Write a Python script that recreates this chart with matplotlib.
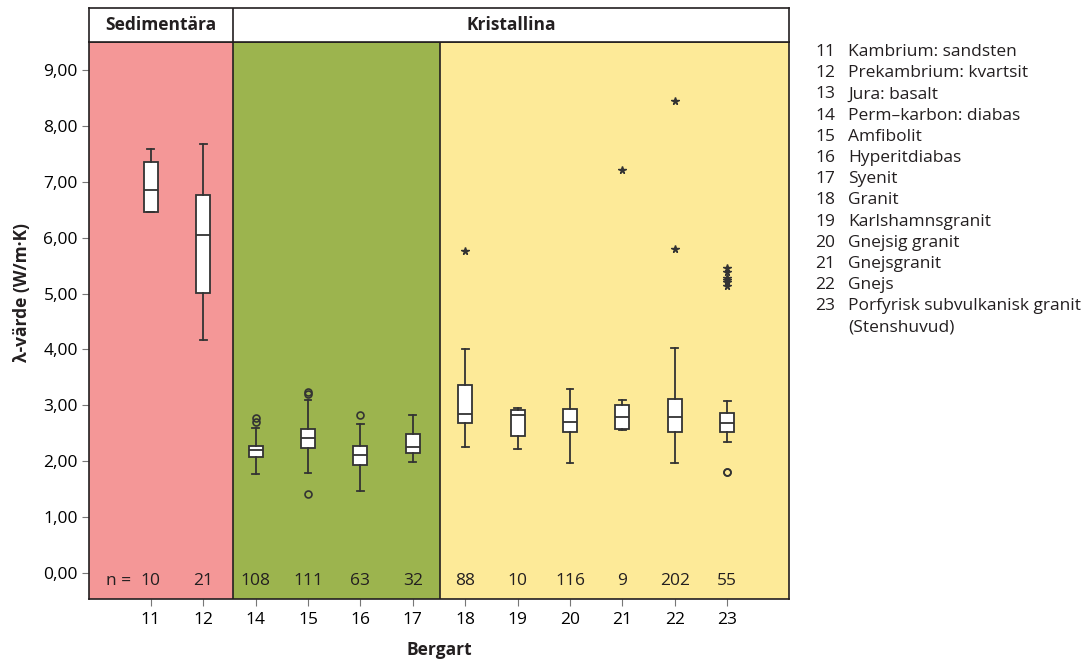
import matplotlib as mpl
import matplotlib.pyplot as plt

mpl.rcParams['font.family'] = ['Open Sans', 'DejaVu Sans']
mpl.rcParams['text.color'] = '#231f20'
mpl.rcParams['axes.labelcolor'] = '#231f20'

codes = ['11', '12', '14', '15', '16', '17', '18', '19', '20', '21', '22', '23']
counts = [10, 21, 108, 111, 63, 32, 88, 10, 116, 9, 202, 55]

whislo = [6.45, 4.16, 1.78, 1.79, 1.47, 1.99, 2.25, 2.22, 1.97, 2.55, 1.97, 2.34]
q1 = [6.45, 5.01, 2.07, 2.23, 1.93, 2.15, 2.68, 2.46, 2.52, 2.57, 2.52, 2.52]
med = [6.85, 6.05, 2.20, 2.42, 2.11, 2.25, 2.84, 2.83, 2.71, 2.80, 2.80, 2.69]
q3 = [7.35, 6.77, 2.28, 2.58, 2.27, 2.49, 3.36, 2.92, 2.93, 3.00, 3.12, 2.87]
whishi = [7.58, 7.68, 2.59, 3.10, 2.66, 2.82, 4.01, 2.96, 3.30, 3.09, 4.02, 3.08]

# outliers (circles) and extreme values (stars)
circles = [[], [], [2.70, 2.77], [1.41, 3.21, 3.23], [2.82], [], [], [], [], [], [], [1.80, 1.81]]
stars = [[], [], [], [], [], [], [5.76], [], [], [7.21], [5.79, 8.44],
         [5.14, 5.20, 5.24, 5.28, 5.39, 5.46]]

legend = ['11', 'Kambrium: sandsten', '12', 'Prekambrium: kvartsit', '13', 'Jura: basalt',
          '14', 'Perm\u2013karbon: diabas', '15', 'Amfibolit', '16', 'Hyperitdiabas',
          '17', 'Syenit', '18', 'Granit', '19', 'Karlshamnsgranit', '20', 'Gnejsig granit',
          '21', 'Gnejsgranit', '22', 'Gnejs', '23', 'Porfyrisk subvulkanisk granit',
          '', '(Stenshuvud)']

yticks = [0, 1, 2, 3, 4, 5, 6, 7, 8, 9]

fs = 12.5
fig = plt.figure(figsize=(10.84, 6.62), dpi=100)
ax = fig.add_axes([89 / 1084, 1 - 599 / 662, 700 / 1084, 557 / 662])
hd = fig.add_axes([89 / 1084, 1 - 42 / 662, 700 / 1084, 34 / 662], sharex=ax)

x0, x1 = -1.18, 12.18
b1, b2 = 1.565, 5.51
ax.axvspan(x0, b1, color='#f49797', lw=0, zorder=0)
ax.axvspan(b1, b2, color='#9cb44e', lw=0, zorder=0)
ax.axvspan(b2, x1, color='#fdea98', lw=0, zorder=0)
ax.axvline(b1, color='#231f20', lw=1.2, zorder=1)
ax.axvline(b2, color='#231f20', lw=1.2, zorder=1)

pos = list(range(len(codes)))
stats = []
for i in pos:
    stats.append({'whislo': whislo[i], 'q1': q1[i], 'med': med[i], 'q3': q3[i],
                  'whishi': whishi[i], 'fliers': []})
line = dict(color='#333333', lw=1.3)
ax.bxp(stats, positions=pos, widths=0.27, capwidths=0.13, patch_artist=True,
       boxprops=dict(facecolor='white', edgecolor='#333333', lw=1.3),
       medianprops=line, whiskerprops=line, capprops=line, zorder=3)

for i in pos:
    if circles[i]:
        ax.plot([i] * len(circles[i]), circles[i], 'o', mfc='none', mec='#333333',
                ms=5, mew=1.2, zorder=4)
    if stars[i]:
        ax.plot([i] * len(stars[i]), stars[i], '*', color='#333333', ms=5.5, zorder=4)
    ax.text(i, -0.14, str(counts[i]), ha='center', va='center', fontsize=fs)
ax.text(-0.62, -0.14, 'n =', ha='center', va='center', fontsize=fs)

ax.set_xlim(x0, x1)
ax.set_ylim(-0.465, 9.5)
ax.set_xticks(pos)
ax.set_xticklabels(codes, fontsize=fs)
ax.set_yticks(yticks)
ax.set_yticklabels(['%d,00' % v for v in yticks], fontsize=fs)
ax.tick_params(direction='out', length=5, color='#777777')
ax.tick_params(axis='y', pad=3)
ax.tick_params(axis='x', pad=4)
for s in ax.spines.values():
    s.set_color('#231f20')
    s.set_linewidth(1.2)
ax.set_xlabel('Bergart', fontsize=fs, fontweight='bold', labelpad=10)
ax.set_ylabel('\u03bb-v\u00e4rde (W/m\u00b7K)', fontsize=fs, fontweight='bold')
ax.yaxis.set_label_coords(-0.083, 0.55)

hd.set_ylim(0, 1)
hd.axvline(b1, color='#231f20', lw=1.2)
hd.text((x0 + b1) / 2, 0.5, 'Sediment\u00e4ra', ha='center', va='center',
        fontsize=fs, fontweight='bold')
hd.text((b1 + x1) / 2, 0.5, 'Kristallina', ha='center', va='center',
        fontsize=fs, fontweight='bold')
hd.tick_params(left=False, bottom=False, labelleft=False, labelbottom=False)
for s in hd.spines.values():
    s.set_color('#231f20')
    s.set_linewidth(1.2)

for k in range(len(legend) // 2):
    y = 1 - (52 + 21.2 * k) / 662
    fig.text(815 / 1084, y, legend[2 * k], fontsize=fs, va='center')
    fig.text(848 / 1084, y, legend[2 * k + 1], fontsize=fs, va='center')

plt.savefig('out.png', dpi=100)
